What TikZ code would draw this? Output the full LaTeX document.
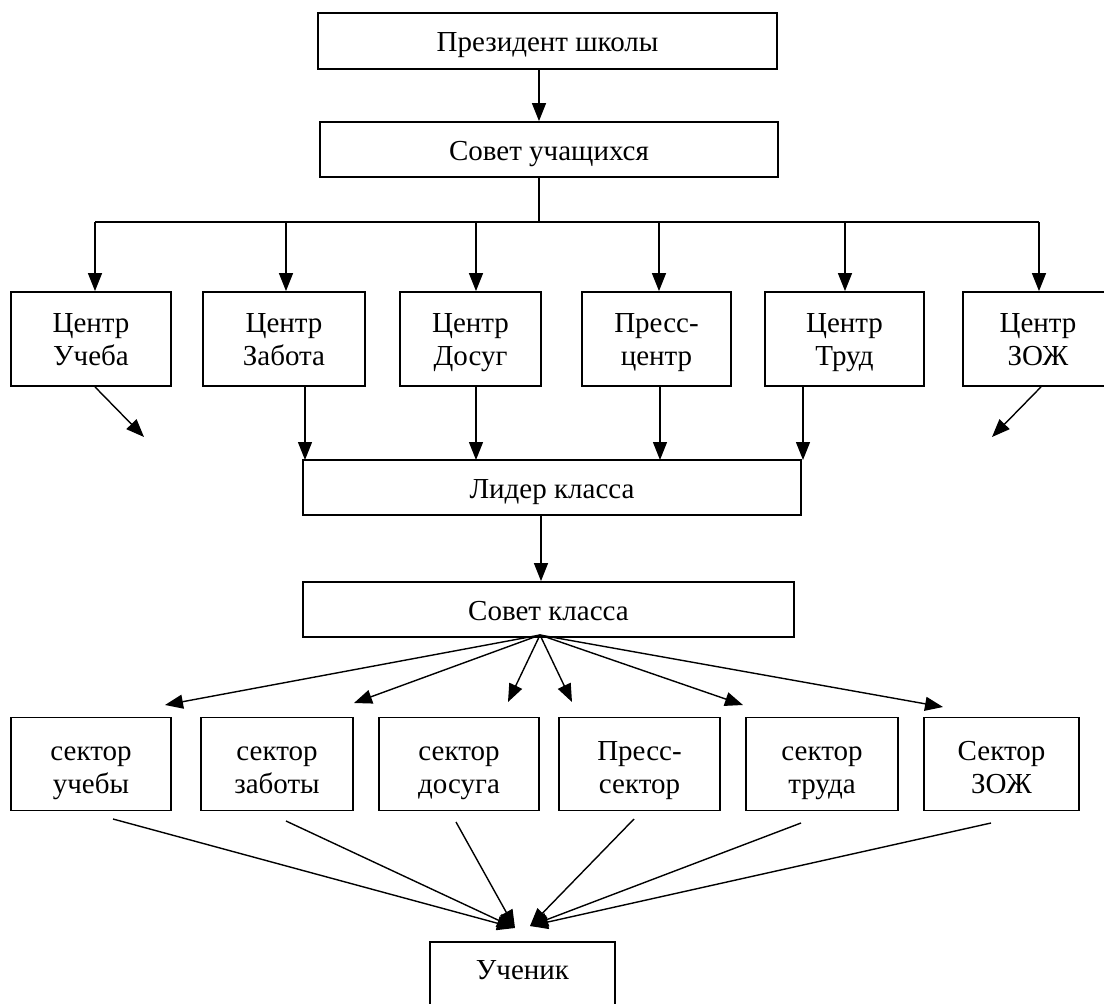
\documentclass[tikz,border=0pt]{standalone}
\usepackage{fontspec}
\setmainfont{Liberation Serif}
\usetikzlibrary{arrows.meta}
\begin{document}
\begin{tikzpicture}[x=1pt,y=-1pt,
  box/.style={draw,line width=1.8pt,inner sep=0pt,align=center,
    font=\fontsize{29}{33}\selectfont},
  one/.style={box,text height=25pt,text depth=4pt},
  cbox/.style={box,minimum height=94,text height=56pt,text depth=4pt},
  sbox/.style={box,minimum height=93,text height=62pt,text depth=4pt},
  conn/.style={line width=1.4pt},
  arr/.style={conn,-{Triangle[length=18pt,width=14pt]}}]
\useasboundingbox (0,0) rectangle (1104,1004);
\clip (0,0) rectangle (1104,1004);
\fill[white] (0,0) rectangle (1104,1004);
% top
\node[one,minimum width=459,minimum height=56] (pres) at (547.5,41) {Президент школы};
\node[one,minimum width=458,minimum height=55] (sov) at (549,149.5) {Совет учащихся};
% centres
\node[cbox,minimum width=160] (c1) at (91,339) {Центр\\Учеба};
\node[cbox,minimum width=162] (c2) at (284,339) {Центр\\Забота};
\node[cbox,minimum width=141] (c3) at (470.5,339) {Центр\\Досуг};
\node[cbox,minimum width=149] (c4) at (656.5,339) {Пресс-\\центр};
\node[cbox,minimum width=159] (c5) at (844.5,339) {Центр\\Труд};
\node[cbox,minimum width=150] (c6) at (1038,339) {Центр\\ЗОЖ};
\node[one,minimum width=498,minimum height=55] (lid) at (552,487.5) {Лидер класса};
\node[one,minimum width=491,minimum height=55] (sk) at (548.5,609.5) {Совет класса};
% sectors
\node[sbox,minimum width=160] (s1) at (91,764) {сектор\\учебы};
\node[sbox,minimum width=152] (s2) at (277,764) {сектор\\заботы};
\node[sbox,minimum width=160] (s3) at (459,764) {сектор\\досуга};
\node[sbox,minimum width=161] (s4) at (639.5,764) {Пресс-\\сектор};
\node[sbox,minimum width=152] (s5) at (822,764) {сектор\\труда};
\node[sbox,minimum width=155] (s6) at (1001.5,764) {Сектор\\ЗОЖ};
\node[box,minimum width=185,minimum height=70,anchor=north] (uch) at (522.5,941) {};
\node[font=\fontsize{29}{33}\selectfont,inner sep=0pt,anchor=base] (uchtext) at (522.5,979) {Ученик};
% president -> council
\coordinate (a1) at (539,0);
\draw[arr] (pres.south -| a1) -- (sov.north -| a1);
% bus
\coordinate (bus) at (539,222);
\coordinate (b1) at (95,222);
\coordinate (b2) at (286,222);
\coordinate (b3) at (476,222);
\coordinate (b4) at (659,222);
\coordinate (b5) at (845,222);
\coordinate (b6) at (1039,222);
\draw[conn] (sov.south -| bus) -- (bus);
\draw[conn] (b1) -- (b6);
\foreach \i in {1,...,6} {\draw[arr] (b\i) -- (b\i |- c1.north);}
% centres -> leader
\coordinate (l2) at (305,460);
\coordinate (l3) at (476,460);
\coordinate (l4) at (660,460);
\coordinate (l5) at (803,460);
\draw[arr] (c2.south -| l2) -- (l2);
\draw[arr] (c3.south -| l3) -- (l3);
\draw[arr] (c4.south -| l4) -- (l4);
\draw[arr] (c5.south -| l5) -- (l5);
\coordinate (d1s) at (95,387);
\coordinate (d1e) at (144,437);
\coordinate (d6s) at (1041,387);
\coordinate (d6e) at (992,437);
\draw[arr] (c1.south -| d1s) -- (d1e);
\draw[arr] (c6.south -| d6s) -- (d6e);
% leader -> class council
\coordinate (a2) at (541,0);
\draw[arr] (lid.south -| a2) -- (sk.north -| a2);
% fan
\coordinate (fan) at (540,635);
\coordinate (f1) at (165,705);
\coordinate (f2) at (354,703);
\coordinate (f3) at (508,702);
\coordinate (f4) at (572,702);
\coordinate (f5) at (743,705);
\coordinate (f6) at (943,707);
\foreach \i in {1,...,6} {\draw[arr] (fan) -- (f\i);}
% sectors -> pupil
\coordinate (t1) at (113,819);
\coordinate (t2) at (286,821);
\coordinate (t3) at (456,822);
\coordinate (t4) at (634,819);
\coordinate (t5) at (801,823);
\coordinate (t6) at (991,823);
\coordinate (ul) at (515,928);
\coordinate (ur) at (530,926);
\draw[arr] (t1) -- (ul);
\draw[arr] (t2) -- (ul);
\draw[arr] (t3) -- (ul);
\draw[arr] (t4) -- (ur);
\draw[arr] (t5) -- (ur);
\draw[arr] (t6) -- (ur);
\end{tikzpicture}
\end{document}
